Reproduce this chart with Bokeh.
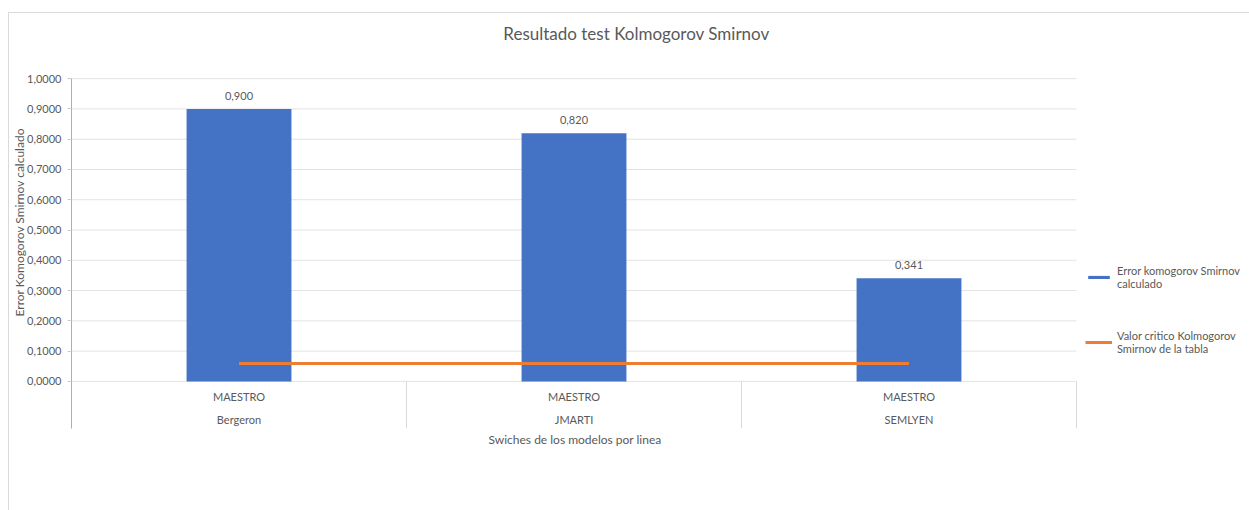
from bokeh.plotting import figure
from bokeh.models import (Range1d, FixedTicker, CustomJSTickFormatter,
                          ColumnDataSource, Legend, LegendItem, Title, Label)
from bokeh.core.properties import value
from bokeh.embed import file_html
from bokeh.resources import INLINE

# Kolmogorov-Smirnov results per line model
modelos = ["Bergeron", "JMARTI", "SEMLYEN"]
switches = ["MAESTRO", "MAESTRO", "MAESTRO"]
error_ks = [0.900, 0.820, 0.341]
critico_ks = [0.059, 0.059, 0.059]
y_ticks = [0.0, 0.1, 0.2, 0.3, 0.4, 0.5, 0.6, 0.7, 0.8, 0.9, 1.0]

FONT = "Lato"
GRAY = "#595959"
BLUE = "#4472c4"
ORANGE = "#ed7d31"
GRID = "#e3e3e3"

W, H = 1241, 498
LEFT, BOTTOM = 62, 83
PLOT_W = 1005                      # width taken by the three categories
PX_PER_UNIT = 302                  # vertical pixels per unit of the value axis
N = len(modelos)
X_END = N * (W - LEFT) / PLOT_W    # frame runs on to the right edge, legend sits there
Y_LOW = -47 / PX_PER_UNIT          # room under zero for the two-level category labels
Y_HIGH = 1.0 + 65 / PX_PER_UNIT    # room above the top tick for the title
TITLE_X = (PLOT_W + 125) / 2 / (PLOT_W / N)
TITLE_Y = 1.0 + 45 / PX_PER_UNIT

src = ColumnDataSource(dict(
    pos=[i + 0.5 for i in range(N)],
    modelo=modelos,
    switch=switches,
    error=error_ks,
    critico=critico_ks,
    etiqueta=[f"{v:.3f}".replace(".", ",") for v in error_ks],
))

p = figure(width=W, height=H,
           x_range=Range1d(0, X_END), y_range=Range1d(Y_LOW, Y_HIGH),
           x_axis_location=None,
           output_backend="svg", toolbar_location=None,
           min_border_left=LEFT, min_border_right=0,
           min_border_top=0, min_border_bottom=BOTTOM)
p.margin = (12, 0, 0, 8)
p.styles = {"border-left": "1px solid #d9d9d9", "border-top": "1px solid #d9d9d9"}
p.outline_line_color = None
p.background_fill_color = "white"
p.border_fill_color = "white"
p.grid.visible = False
p.title.visible = False

# chart title
p.add_layout(Label(x=TITLE_X, y=TITLE_Y, text="Resultado test Kolmogorov Smirnov",
                   text_align="center", text_baseline="middle",
                   text_font=FONT, text_font_size="17px", text_color=GRAY))

# value axis
yax = p.yaxis[0]
yax.bounds = (Y_LOW, 1.0)
yax.ticker = FixedTicker(ticks=y_ticks)
yax.formatter = CustomJSTickFormatter(code="return tick.toFixed(4).replace('.', ',');")
yax.major_tick_line_color = "#c8ced8"
yax.major_tick_in = 0
yax.major_tick_out = 4
yax.minor_tick_line_color = None
yax.axis_line_color = "#a5b0bf"
yax.major_label_text_font = FONT
yax.major_label_text_font_size = "11px"
yax.major_label_text_color = GRAY
yax.major_label_standoff = 6

# value axis title
p.add_layout(Title(text="Error Komogorov Smirnov calculado", align="left", offset=112,
                   standoff=-4, text_font=FONT, text_font_size="12px",
                   text_font_style="normal", text_color=GRAY), "left")

# category axis title
p.add_layout(Title(text="Swiches de los modelos por linea", align="left", offset=417,
                   standoff=2, text_font=FONT, text_font_size="12px",
                   text_font_style="normal", text_color=GRAY), "below")

# horizontal grid across the category area only
p.segment(x0=[0] * len(y_ticks), y0=y_ticks, x1=[N] * len(y_ticks), y1=y_ticks,
          line_color=GRID, line_width=1)

# category separators below zero
bounds = list(range(N + 1))
p.segment(x0=bounds, y0=[0] * len(bounds), x1=bounds, y1=[Y_LOW] * len(bounds),
          line_color="#d9d9d9", line_width=1)

bars = p.vbar(x="pos", top="error", width=0.313, source=src,
              fill_color=BLUE, line_color=None)
crit = p.line(x="pos", y="critico", source=src, line_color=ORANGE, line_width=3)

# data labels
p.text(x="pos", y="error", text="etiqueta", source=src, y_offset=-13,
       text_align="center", text_baseline="middle", text_font=value(FONT),
       text_font_size="11px", text_color=GRAY)

# two-level category labels
p.text(x="pos", y=0, text="switch", source=src, y_offset=15,
       text_align="center", text_baseline="middle", text_font=value(FONT),
       text_font_size="11px", text_color=GRAY)
p.text(x="pos", y=0, text="modelo", source=src, y_offset=38,
       text_align="center", text_baseline="middle", text_font=value(FONT),
       text_font_size="11px", text_color=GRAY)

legend = Legend(items=[
    LegendItem(label="Error komogorov Smirnov\ncalculado", renderers=[bars]),
    LegendItem(label="Valor critico Kolmogorov\nSmirnov de la tabla", renderers=[crit]),
], location=(PLOT_W + 9, 73))
legend.glyph_width = 27
legend.glyph_height = 4
legend.label_standoff = 5
legend.label_text_font = FONT
legend.label_text_font_size = "11px"
legend.label_text_line_height = 1.3
legend.label_text_color = GRAY
legend.spacing = 39
legend.padding = 0
legend.margin = 0
legend.border_line_color = None
legend.background_fill_alpha = 0
p.add_layout(legend)

open("out.html", "w").write(file_html(p, INLINE))
